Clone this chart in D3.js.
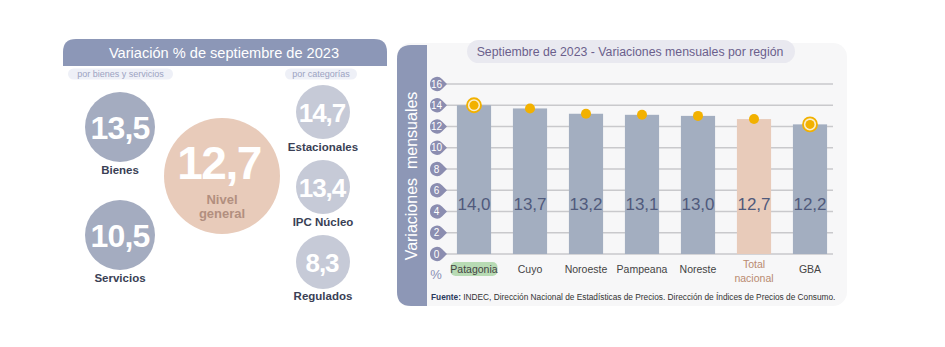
<!DOCTYPE html>
<html><head><meta charset="utf-8">
<script src="https://cdn.jsdelivr.net/npm/d3@7"></script>
<style>html,body{margin:0;padding:0;background:#fff;}svg{display:block;font-family:"Liberation Sans",Arial,sans-serif;}</style>
</head><body>
<svg id="c" width="945" height="347"></svg>
<script>
// ---- data ----
const regions = ["Patagonia","Cuyo","Noroeste","Pampeana","Noreste","Total nacional","GBA"];
const regionValues = [14.0,13.7,13.2,13.1,13.0,12.7,12.2];
const yTicks = [0,2,4,6,8,10,12,14,16];
const goodsLabels = ["Bienes","Servicios"];
const goodsValues = [13.5,10.5];
const categoryLabels = ["Estacionales","IPC Núcleo","Regulados"];
const categoryValues = [14.7,13.4,8.3];
const generalLabel = ["Nivel","general"];
const generalValue = 12.7;
const leftTitle = "Variación % de septiembre de 2023";
const rightTitle = "Septiembre de 2023 - Variaciones mensuales por región";
const yTitle = "Variaciones  mensuales";
const sourceBold = "Fuente:";
const sourceText = " INDEC, Dirección Nacional de Estadísticas de Precios. Dirección de Índices de Precios de Consumo.";

const fmt = v => d3.format(".1f")(v).replace(".", ",");
const svg = d3.select("#c");

// ---- left panel ----
function topRounded(x, y, w, h, r){
  return `M${x},${y+h}V${y+r}Q${x},${y} ${x+r},${y}H${x+w-r}Q${x+w},${y} ${x+w},${y+r}V${y+h}Z`;
}
svg.append("path").attr("d", topRounded(63,39,324,27,13)).attr("fill","#8c97b7");
svg.append("text").attr("x",224).attr("y",58).attr("text-anchor","middle")
  .attr("fill","#fff").attr("font-size",14.6).text(leftTitle);

const pills = [{t:"por bienes y servicios",x:68,w:105},{t:"por categorías",x:285,w:72}];
pills.forEach(p=>{
  svg.append("rect").attr("x",p.x).attr("y",68.5).attr("width",p.w).attr("height",11).attr("rx",5.5).attr("fill","#eef0f7");
  svg.append("text").attr("x",p.x+p.w/2).attr("y",77).attr("text-anchor","middle")
    .attr("fill","#9ca3c2").attr("font-size",9).text(p.t);
});

// general bubble
svg.append("circle").attr("cx",222).attr("cy",176).attr("r",58).attr("fill","#e8cbba");
svg.append("text").attr("x",219).attr("y",178.5).attr("text-anchor","middle").attr("fill","#fff")
  .attr("font-weight","bold").attr("font-size",46).attr("letter-spacing",-1.5).text(fmt(generalValue));
generalLabel.forEach((t,i)=>{
  svg.append("text").attr("x",222).attr("y",204+i*14).attr("text-anchor","middle").attr("fill","#b28f7f")
    .attr("font-weight","bold").attr("font-size",13).text(t);
});

// goods bubbles
const goodsPos = [{cy:127,ly:174},{cy:235,ly:282}];
goodsValues.forEach((v,i)=>{
  const p = goodsPos[i];
  svg.append("circle").attr("cx",120).attr("cy",p.cy).attr("r",35).attr("fill","#a4acc0");
  svg.append("text").attr("x",120).attr("y",p.cy+11.5).attr("text-anchor","middle").attr("fill","#fff")
    .attr("font-weight","bold").attr("font-size",32).attr("letter-spacing",-0.8).text(fmt(v));
  svg.append("text").attr("x",120).attr("y",p.ly).attr("text-anchor","middle").attr("fill","#3a3f55")
    .attr("font-weight","bold").attr("font-size",11.5).text(goodsLabels[i]);
});

// category bubbles
const catPos = [{cy:112,ly:151},{cy:187,ly:226},{cy:262,ly:300}];
categoryValues.forEach((v,i)=>{
  const p = catPos[i];
  svg.append("circle").attr("cx",323).attr("cy",p.cy).attr("r",27).attr("fill","#c6cad7");
  svg.append("text").attr("x",322).attr("y",p.cy+9.5).attr("text-anchor","middle").attr("fill","#fff")
    .attr("font-weight","bold").attr("font-size",26).attr("letter-spacing",-1).text(fmt(v));
  svg.append("text").attr("x",323).attr("y",p.ly).attr("text-anchor","middle").attr("fill","#3a3f55")
    .attr("font-weight","bold").attr("font-size",11.5).text(categoryLabels[i]);
});

// ---- right panel ----
svg.append("rect").attr("x",397).attr("y",43).attr("width",450).attr("height",263).attr("rx",14).attr("fill","#f7f7f8");
// y title band with rounded left corners
svg.append("path").attr("d","M427,45V306H411Q397,306 397,292V59Q397,45 411,45Z").attr("fill","#8d97b6");
svg.append("text").attr("transform","translate(417,176) rotate(-90)").attr("text-anchor","middle")
  .attr("fill","#fff").attr("font-size",16).attr("xml:space","preserve").style("white-space","pre").text(yTitle);

// title pill
svg.append("rect").attr("x",467).attr("y",40).attr("width",328).attr("height",23).attr("rx",11.5).attr("fill","#e9e9f0");
svg.append("text").attr("x",630).attr("y",56).attr("text-anchor","middle").attr("fill","#6b5f8c")
  .attr("font-size",12.3).text(rightTitle);

const x = d3.scaleBand().domain(regions).range([446,838]).paddingInner(0.39).paddingOuter(0.195);
const y = d3.scaleLinear().domain([0,16]).range([254,84]);

// gridlines
svg.append("g").selectAll("line").data(yTicks).join("line")
  .attr("x1",446).attr("x2",833).attr("y1",d=>y(d)).attr("y2",d=>y(d))
  .attr("stroke","#c9c9cc").attr("stroke-width",1.5);

// tick tags
const tg = svg.append("g").selectAll("g").data(yTicks).join("g").attr("transform",d=>`translate(437,${y(d)})`);
tg.append("path").attr("d","M-7,0A7,7 0 0 1 5,-5L10,0L5,5A7,7 0 0 1 -7,0Z").attr("fill","#8b8db0");
tg.append("text").attr("x",-0.5).attr("y",3.6).attr("text-anchor","middle").attr("fill","#fff").attr("font-size",10).text(d=>d);

// bars
svg.append("g").selectAll("rect").data(regions).join("rect")
  .attr("x",d=>x(d)).attr("width",x.bandwidth())
  .attr("y",(d,i)=>y(regionValues[i])).attr("height",(d,i)=>y(0)-y(regionValues[i]))
  .attr("fill",d=>d==="Total nacional"?"#e8cbba":"#a3aec0");

// value labels
svg.append("g").selectAll("text").data(regions).join("text")
  .attr("x",d=>x(d)+x.bandwidth()/2).attr("y",210).attr("text-anchor","middle")
  .attr("fill","#505a7c").attr("font-size",17).text((d,i)=>fmt(regionValues[i]));

// dots
const ringed = ["Patagonia","GBA"];
const dg = svg.append("g").selectAll("g").data(regions).join("g")
  .attr("transform",(d,i)=>`translate(${x(d)+x.bandwidth()/2},${y(regionValues[i])})`);
dg.filter(d=>ringed.includes(d)).append("circle").attr("r",7).attr("fill","#fbeecb").attr("stroke","#f2b100").attr("stroke-width",1.8);
dg.append("circle").attr("r",d=>ringed.includes(d)?4.5:5).attr("fill","#f2b100");

// category labels
const patX = x("Patagonia")+x.bandwidth()/2;
svg.append("rect").attr("x",patX-23.5).attr("y",262).attr("width",47).attr("height",14).attr("rx",5).attr("fill","#b8dbb4");
const lg = svg.append("g").selectAll("text").data(regions).join("text")
  .attr("x",d=>x(d)+x.bandwidth()/2).attr("text-anchor","middle").attr("font-size",10.5)
  .attr("fill",d=>d==="Total nacional"?"#b98a70":"#444");
lg.each(function(d){
  const t = d3.select(this);
  if(d==="Total nacional"){
    d.split(" ").forEach((w,i)=>t.append("tspan").attr("x",x(d)+x.bandwidth()/2).attr("y",268+i*14).text(w));
  } else {
    t.attr("y",272.5).text(d);
  }
});
svg.append("text").attr("x",436).attr("y",279).attr("text-anchor","middle").attr("fill","#8a90b5").attr("font-size",13).text("%");

// source
const src = svg.append("text").attr("x",431).attr("y",300).attr("font-size",8.3).attr("fill","#333");
src.append("tspan").attr("font-weight","bold").attr("fill","#2b3a5c").text(sourceBold);
src.append("tspan").text(sourceText);
</script>
</body></html>
